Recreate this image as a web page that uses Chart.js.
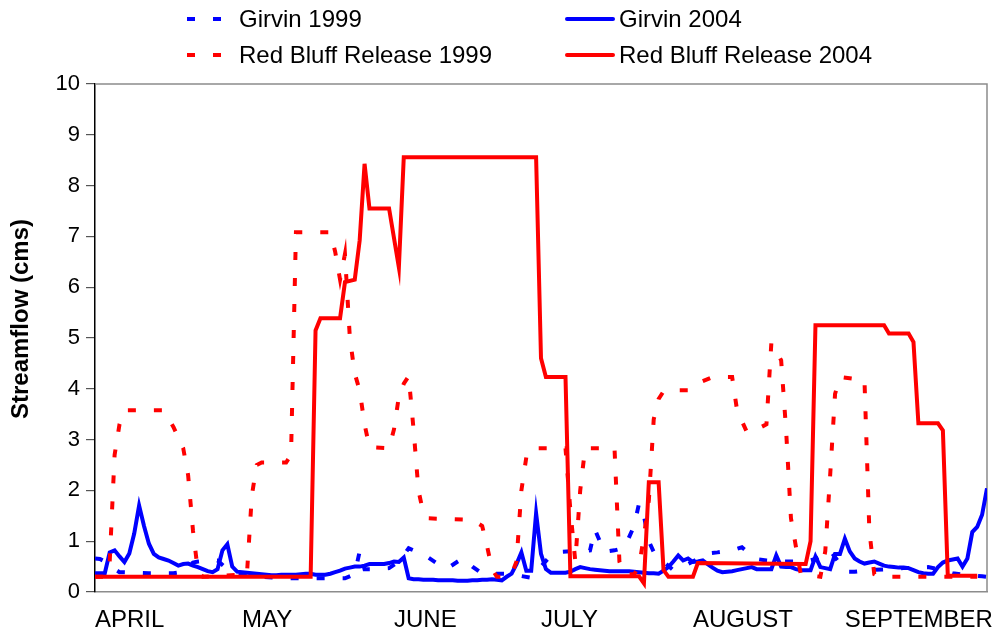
<!DOCTYPE html>
<html><head><meta charset="utf-8">
<script src="https://cdn.jsdelivr.net/npm/chart.js@4.4.0/dist/chart.umd.min.js"></script>
<style>html,body{margin:0;padding:0;background:#fff;}#wrap{width:1003px;height:627px;position:relative;}</style>
</head><body><div id="wrap"><canvas id="c"></canvas></div>
<script>
// Day index 0 = April 1
const monthLabels = ['APRIL','MAY','JUNE','JULY','AUGUST','SEPTEMBER'];
const monthStartDays = [0,30,61,91,122,153];
const yTicks = [0,1,2,3,4,5,6,7,8,9,10];
const yTitle = 'Streamflow (cms)';

// Girvin 2004, daily (Apr 1 .. Sep 30)
const girvin2004Flow = [
0.37,0.37,0.37,0.78,0.82,0.70,0.59,0.76,1.15,1.70,
1.30,0.95,0.75,0.68,0.65,0.62,0.57,0.52,0.55,0.56,
0.52,0.49,0.45,0.41,0.39,0.45,0.82,0.94,0.50,0.40,
0.39,0.38,0.37,0.36,0.35,0.34,0.33,0.33,0.34,0.34,
0.34,0.34,0.35,0.36,0.36,0.34,0.34,0.34,0.36,0.39,
0.42,0.46,0.48,0.50,0.50,0.52,0.55,0.55,0.55,0.55,
0.57,0.60,0.59,0.68,0.27,0.25,0.25,0.24,0.24,0.24,
0.23,0.23,0.23,0.23,0.22,0.22,0.22,0.23,0.23,0.24,
0.24,0.25,0.24,0.23,0.30,0.36,0.55,0.78,0.42,0.42,
1.55,0.75,0.45,0.38,0.38,0.38,0.38,0.40,0.45,0.49,
0.47,0.45,0.44,0.43,0.42,0.41,0.41,0.41,0.41,0.41,
0.40,0.39,0.38,0.37,0.37,0.36,0.42,0.49,0.60,0.72,
0.62,0.66,0.59,0.60,0.62,0.55,0.48,0.42,0.39,0.40,
0.41,0.43,0.45,0.47,0.49,0.45,0.45,0.45,0.45,0.72,
0.50,0.49,0.49,0.45,0.43,0.43,0.43,0.70,0.49,0.47,
0.45,0.75,0.75,1.05,0.80,0.66,0.60,0.56,0.58,0.60,
0.56,0.52,0.50,0.49,0.48,0.48,0.47,0.43,0.39,0.37,
0.36,0.36,0.49,0.58,0.62,0.64,0.66,0.50,0.66,1.18,
1.28,1.52,2.04];

// Girvin 1999
const girvin1999Days = [0,1,2,4,5,11,16,18,20,21,23,25,27,30,34,38,43,47,51,53,54,55,57,60,62,64,65,66,68,70,72,74,75,77,79,84,86,89,91,93,95,97,99,101,102,103,104,106,108,110,111,112,113,114,116,118,120,122,125,127,130,132,133,135,137,140,143,145,147,148,150,152,153,155,158,162,165,170,173,175,178,181,182];
const girvin1999Flow = [0.66,0.65,0.60,0.45,0.39,0.37,0.37,0.40,0.58,0.60,0.62,0.62,0.45,0.35,0.30,0.27,0.27,0.27,0.27,0.35,0.80,0.45,0.45,0.47,0.60,0.86,0.82,0.75,0.68,0.55,0.47,0.60,0.66,0.50,0.36,0.36,0.33,0.28,0.50,0.72,0.79,0.80,0.80,0.82,1.23,1.00,0.79,0.82,0.87,1.30,1.74,1.50,1.00,0.79,0.60,0.43,0.50,0.60,0.76,0.78,0.82,0.88,0.80,0.65,0.62,0.60,0.60,0.60,0.65,0.70,0.82,0.55,0.40,0.40,0.43,0.45,0.47,0.49,0.43,0.37,0.33,0.31,0.30];

// Red Bluff Release 1999
const redBluff1999Days = [0,2,3,4,5,6,14,16,18,19,20,21,22,31,32,33,34,39,40,41,48,49,50,51,52,53,54,55,56,60,61,62,63,64,65,66,67,68,77,79,80,81,82,84,85,86,87,88,89,96,97,98,99,100,106,107,108,110,111,112,113,114,115,116,117,121,122,126,130,131,133,134,137,138,139,140,141,142,143,144,148,149,150,151,152,157,158,159,160,180];
const redBluff1999Flow = [0.30,0.30,0.60,2.70,3.30,3.58,3.58,3.25,2.83,2.30,1.20,0.40,0.30,0.35,1.90,2.50,2.55,2.55,2.70,7.08,7.08,6.70,6.15,6.65,5.00,4.30,3.97,3.30,2.85,2.83,3.20,3.85,4.10,4.25,3.20,2.00,1.55,1.45,1.42,1.30,0.90,0.45,0.30,0.30,0.35,0.60,2.00,2.65,2.83,2.83,1.60,0.60,2.00,2.83,2.83,0.60,0.35,0.35,0.50,1.10,1.80,3.40,3.80,3.95,3.97,3.97,4.07,4.23,4.23,3.58,3.15,3.15,3.30,4.90,4.75,4.56,3.20,1.45,0.90,0.35,0.30,0.80,2.30,3.90,4.23,4.17,1.20,0.35,0.30,0.30];

// Red Bluff Release 2004
const redBluff2004Days = [0,44,45,46,50,51,53,54,55,56,60,62,63,90,91,92,96,97,111,112,113,115,116,117,122,123,145,146,147,161,162,166,167,168,172,173,174,180];
const redBluff2004Flow = [0.30,0.30,5.15,5.39,5.39,6.10,6.15,6.92,8.43,7.55,7.55,6.39,8.56,8.56,4.60,4.23,4.23,0.31,0.31,0.17,2.16,2.16,0.43,0.30,0.30,0.57,0.55,1.00,5.25,5.25,5.09,5.09,4.92,3.32,3.32,3.18,0.32,0.32];

const seriesLabels = ['Girvin 1999','Girvin 2004','Red Bluff Release 1999','Red Bluff Release 2004'];

function pairs(days, vals){ return days.map((d,i)=>({x:d, y:vals[i]})); }
const girvin2004Days = girvin2004Flow.map((v,i)=>i);

const BLUE = '#0000FF', RED = '#FF0000';
const FONT = '"Liberation Sans", Arial, Helvetica, sans-serif';
Chart.defaults.font.family = FONT;
Chart.defaults.color = '#000';

const frame = {
  id:'frame',
  beforeDatasetsDraw(chart){
    const {ctx, chartArea:a} = chart;
    ctx.save();
    ctx.strokeStyle = '#8c8c8c'; ctx.lineWidth = 1.5;
    ctx.beginPath();
    ctx.moveTo(a.left, a.top); ctx.lineTo(a.right, a.top); ctx.lineTo(a.right, a.bottom);
    ctx.stroke();
    ctx.restore();
  }
};

const axisTitle = {
  id:'axisTitle',
  afterDraw(chart){
    const ctx = chart.ctx;
    ctx.save();
    ctx.translate(21, 319);
    ctx.rotate(-Math.PI/2);
    ctx.fillStyle = '#000';
    ctx.font = 'bold 24px ' + FONT;
    ctx.textAlign = 'center'; ctx.textBaseline = 'middle';
    ctx.fillText(yTitle, 0, 0);
    ctx.restore();
  }
};

const legend = {
  id:'twoColLegend',
  afterDraw(chart){
    const ctx = chart.ctx;
    const cols = [187, 567], rows = [19, 55];
    chart.data.datasets.forEach((ds,i)=>{
      const x = cols[i%2], y = rows[Math.floor(i/2)];
      ctx.save();
      ctx.strokeStyle = ds.borderColor; ctx.lineWidth = ds.borderWidth;
      ctx.setLineDash(ds.borderDash || []);
      ctx.lineCap = (ds.borderDash && ds.borderDash.length) ? 'butt' : 'round';
      ctx.beginPath(); ctx.moveTo(x, y); ctx.lineTo(x + 46, y); ctx.stroke();
      ctx.setLineDash([]);
      ctx.fillStyle = '#000'; ctx.font = '24px ' + FONT; ctx.textBaseline = 'middle'; ctx.textAlign = 'left';
      ctx.fillText(ds.label, x + 52, y + 1);
      ctx.restore();
    });
  }
};

new Chart(document.getElementById('c'), {
  type:'line',
  data:{ datasets:[
    {label:seriesLabels[0], data:pairs(girvin1999Days, girvin1999Flow), borderColor:BLUE, borderWidth:4, borderDash:[8,18], pointRadius:0, order:3, tension:0},
    {label:seriesLabels[1], data:pairs(girvin2004Days, girvin2004Flow), borderColor:BLUE, borderWidth:4, pointRadius:0, order:2, tension:0},
    {label:seriesLabels[2], data:pairs(redBluff1999Days, redBluff1999Flow), borderColor:RED, borderWidth:4, borderDash:[8,18], pointRadius:0, order:1, tension:0},
    {label:seriesLabels[3], data:pairs(redBluff2004Days, redBluff2004Flow), borderColor:RED, borderWidth:4, pointRadius:0, order:0, tension:0}
  ]},
  options:{
    responsive:true, maintainAspectRatio:false, animation:false,
    layout:{ padding:{ top:84, right:16, left:0, bottom:0 } },
    plugins:{ legend:{display:false}, tooltip:{enabled:false} },
    elements:{ line:{ borderCapStyle:'butt', borderJoinStyle:'miter' } },
    scales:{
      x:{
        type:'linear', min:0, max:182,
        afterBuildTicks(s){ s.ticks = monthStartDays.map(v=>({value:v})); },
        afterFit(s){ s.height = 35; },
        ticks:{ align:'start', padding:6, maxRotation:0, autoSkip:false, font:{size:24},
          callback(v){ const i = monthStartDays.indexOf(v); return i>=0 ? monthLabels[i] : ''; } },
        grid:{ display:false },
        border:{ display:true, color:'#8c8c8c', width:1.5 }
      },
      y:{
        min:0, max:10,
        afterBuildTicks(s){ s.ticks = yTicks.map(v=>({value:v})); },
        afterFit(s){ s.width = 95; },
        ticks:{ padding:6, font:{size:22}, color:'#000' },
        grid:{ drawOnChartArea:false, drawTicks:true, tickLength:9, color:'#555', lineWidth:1.2 },
        border:{ display:true, color:'#000', width:1.5 },
        title:{ display:false }
      }
    }
  },
  plugins:[frame, axisTitle, legend]
});
</script></body></html>
